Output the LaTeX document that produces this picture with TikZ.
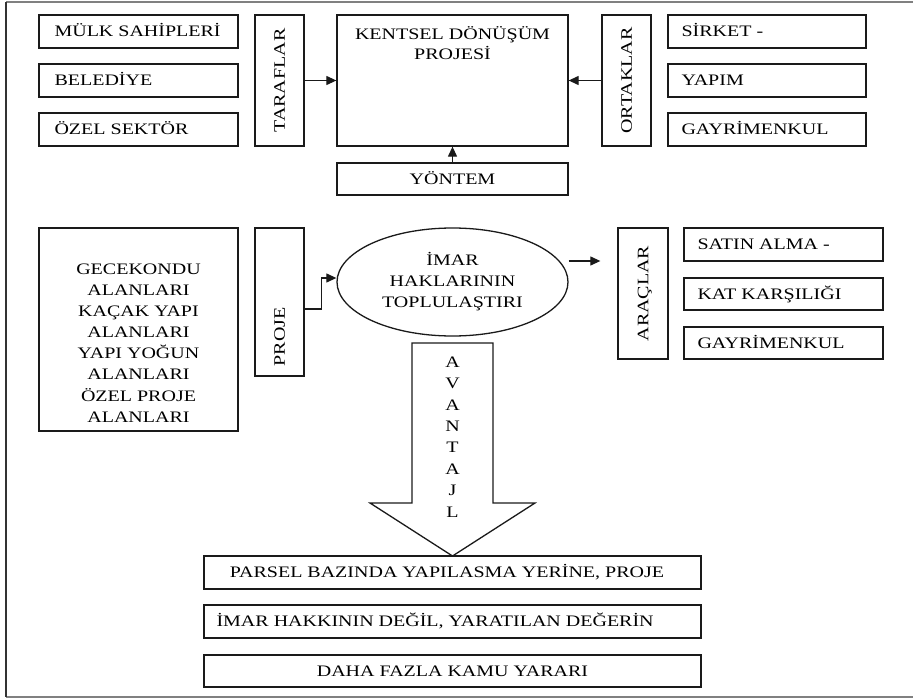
\documentclass[tikz,border=0pt]{standalone}
\usepackage{fontspec}
\setmainfont{Liberation Serif}[FakeStretch=1.25]
\usetikzlibrary{arrows.meta,shapes.geometric,calc}
\definecolor{linec}{HTML}{1A1A1A}
\definecolor{framec}{HTML}{808080}
\definecolor{framel}{HTML}{333333}
\begin{document}
\begin{tikzpicture}[x=1pt,y=-1pt,
  box/.style={draw=linec,line width=1.3pt,rectangle,inner sep=0pt},
  lbl/.style={inner sep=0pt,text height=10.6pt,text depth=0pt,font=\fontsize{16}{20}\selectfont},
  multi/.style={inner sep=0pt,align=center,font=\fontsize{16}{21}\selectfont},
  arr/.style={draw=linec,line width=1.2pt,-{Triangle[length=10pt,width=9pt]}}]
\useasboundingbox (0,0) rectangle (913,698);
% frame
\draw[framec,line width=1.5pt] (6,2) -- (913,2);
\draw[framec,line width=2pt] (6,697) -- (913,697);
\draw[framel,line width=1.5pt] (6,2) -- (6,697);

% top-left column
\node[box,minimum width=199pt,minimum height=33pt] (mulk) at (138.5,31.5) {};
\node[lbl,anchor=west] (mulkt) at ([xshift=16pt]mulk.west) {MÜLK SAHİPLERİ};
\node[box,minimum width=199pt,minimum height=33pt] (bel) at (138.5,80.5) {};
\node[lbl,anchor=west] (belt) at ([xshift=16pt]bel.west) {BELEDİYE};
\node[box,minimum width=199pt,minimum height=33pt] (ozel) at (138.5,129.5) {};
\node[lbl,anchor=west] (ozelt) at ([xshift=16pt]ozel.west) {ÖZEL SEKTÖR};

% taraflar
\node[box,minimum width=49pt,minimum height=131pt] (taraf) at (279.5,80.5) {};
\node[lbl,rotate=90] (taraft) at (taraf.center) {TARAFLAR};

% kentsel
\node[box,minimum width=231pt,minimum height=131pt] (kent) at (452.5,80.5) {};
\node[multi,font=\fontsize{16}{20}\selectfont] (kentt) at (452.5,43) {KENTSEL DÖNÜŞÜM\\PROJESİ};

% yontem
\node[box,minimum width=231pt,minimum height=32pt] (yon) at (452.5,179) {};
\node[lbl] (yont) at (yon.center) {YÖNTEM};

% ortaklar
\node[box,minimum width=49pt,minimum height=131pt] (ortak) at (626.5,80.5) {};
\node[lbl,rotate=90] (ortakt) at (ortak.center) {ORTAKLAR};

% top-right column
\node[box,minimum width=198pt,minimum height=33pt] (sirk) at (767,31.5) {};
\node[lbl,anchor=west] (sirkt) at ([xshift=14pt]sirk.west) {SİRKET -};
\node[box,minimum width=198pt,minimum height=33pt] (yap) at (767,80.5) {};
\node[lbl,anchor=west] (yapt) at ([xshift=14pt]yap.west) {YAPIM};
\node[box,minimum width=198pt,minimum height=33pt] (gay) at (767,129.5) {};
\node[lbl,anchor=west] (gayt) at ([xshift=14pt]gay.west) {GAYRİMENKUL};

% arrows top
\draw[arr] (taraf.east) -- (kent.west);
\draw[arr] (ortak.west) -- (kent.east);
\draw[arr] (yon.north) -- (kent.south);

% gecekondu
\node[box,minimum width=199pt,minimum height=203pt] (gece) at (138.5,329.5) {};
\node[multi,font=\fontsize{16}{21.1}\selectfont] (gecet) at (138.5,343) {GECEKONDU\\ALANLARI\\KAÇAK YAPI\\ALANLARI\\YAPI YOĞUN\\ALANLARI\\ÖZEL PROJE\\ALANLARI};

% proje
\node[box,minimum width=49pt,minimum height=148pt] (proje) at (279.5,302) {};
\node[lbl,rotate=90] (projet) at (279.5,337) {PROJE};

% ellipse
\node[draw=linec,line width=1.3pt,ellipse,minimum width=231pt,minimum height=108pt,multi] (ell) at (452.5,282) {İMAR\\HAKLARININ\\TOPLULAŞTIRI};

% araclar
\node[box,minimum width=50pt,minimum height=131pt] (arac) at (643,293.5) {};
\node[lbl,rotate=90] (aract) at (arac.center) {ARAÇLAR};

% lower-right column
\node[box,minimum width=199pt,minimum height=33pt] (satin) at (783.5,244.5) {};
\node[lbl,anchor=west] (satint) at ([xshift=14pt]satin.west) {SATIN ALMA -};
\node[box,minimum width=199pt,minimum height=32pt] (kat) at (783.5,294) {};
\node[lbl,anchor=west] (katt) at ([xshift=14pt]kat.west) {KAT KARŞILIĞI};
\node[box,minimum width=199pt,minimum height=32pt] (gay2) at (783.5,343) {};
\node[lbl,anchor=west] (gay2t) at ([xshift=14pt]gay2.west) {GAYRİMENKUL};

% arrows middle
\draw[arr] ([yshift=-7pt]proje.east) -- ++(17,0) |- ([yshift=4pt]ell.west);
\coordinate (e1) at ([yshift=21pt]ell.east);
\coordinate (e2) at ($(e1 -| arac.west)+(-17,0)$);
\draw[arr] (e1) -- (e2);

% big arrow
\draw[linec,line width=1.3pt] (412,343) -- (493,343) -- (493,503) -- (535,503) -- (452.5,556) -- (370,503) -- (412,503) -- cycle;
\node[multi,font=\fontsize{16}{21.4}\selectfont] (avt) at (452.5,437) {A\\V\\A\\N\\T\\A\\J\\L};

% bottom boxes
\node[box,minimum width=497pt,minimum height=33pt] (parsel) at (452.5,572.5) {};
\node[lbl] (parselt) at (447,572.5) {PARSEL BAZINDA YAPILASMA YERİNE, PROJE};
\node[box,minimum width=497pt,minimum height=33pt] (imar) at (452.5,621.5) {};
\node[lbl,anchor=west] (imart) at ([xshift=13pt]imar.west) {İMAR HAKKININ DEĞİL, YARATILAN DEĞERİN};
\node[box,minimum width=497pt,minimum height=32pt] (daha) at (452.5,671) {};
\node[lbl] (dahat) at (daha.center) {DAHA FAZLA KAMU YARARI};
\end{tikzpicture}
\end{document}
